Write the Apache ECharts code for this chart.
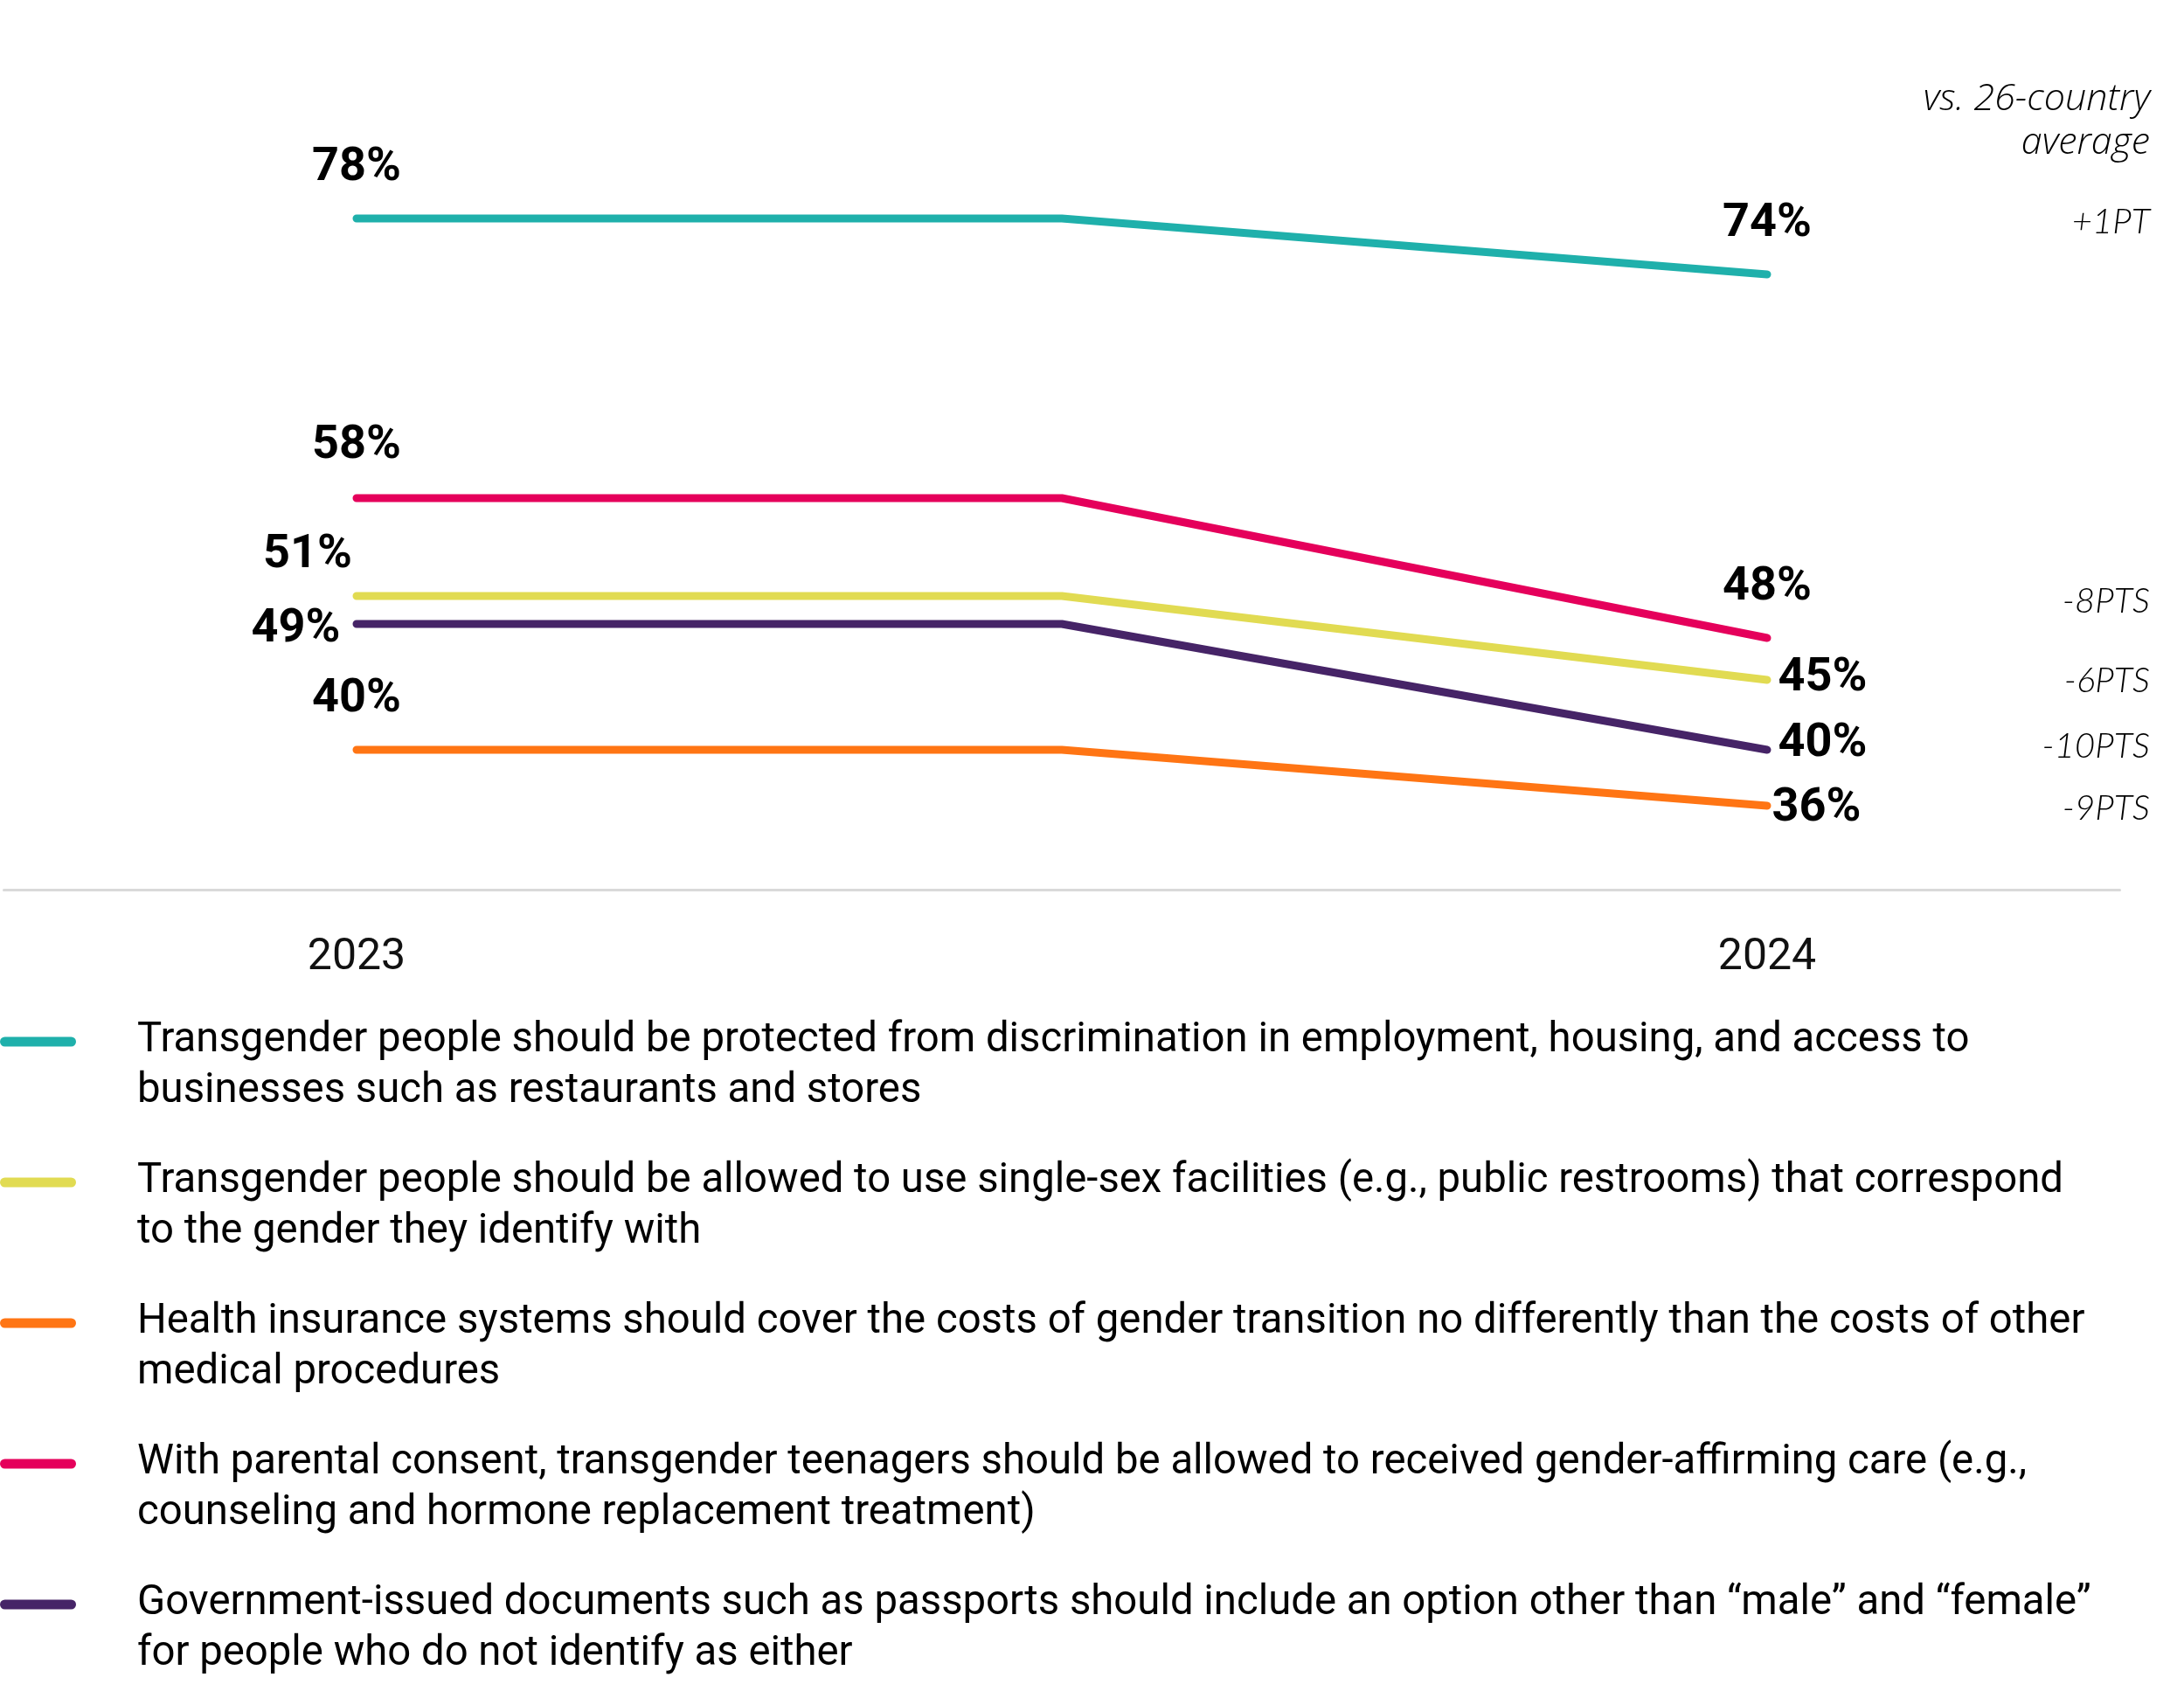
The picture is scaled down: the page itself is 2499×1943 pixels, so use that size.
<!DOCTYPE html>
<html>
<head>
<meta charset="utf-8">
<script src="https://cdn.jsdelivr.net/npm/echarts@6/dist/echarts.min.js"></script>
<title>Support for transgender rights, 2023 vs 2024</title>
<style>
  html, body { margin: 0; padding: 0; background: #ffffff; }
  #main { width: 2499px; height: 1943px; }
</style>
</head>
<body>
<div id="main"></div>
<script>
// categories: the middle point is an unlabeled bend in the lines
var years = ['2023', '', '2024'];

// series values (percent agree)
var protectedValues  = [78, 78, 74];
var facilitiesValues = [51, 51, 45];
var healthValues     = [40, 40, 36];
var teenCareValues   = [58, 58, 48];
var documentsValues  = [49, 49, 40];

var statements = [
  'Transgender people should be protected from discrimination in employment, housing, and access to\nbusinesses such as restaurants and stores',
  'Transgender people should be allowed to use single-sex facilities (e.g., public restrooms) that correspond\nto the gender they identify with',
  'Health insurance systems should cover the costs of gender transition no differently than the costs of other\nmedical procedures',
  'With parental consent, transgender teenagers should be allowed to received gender-affirming care (e.g.,\ncounseling and hormone replacement treatment)',
  'Government-issued documents such as passports should include an option other than \u201cmale\u201d and \u201cfemale\u201d\nfor people who do not identify as either'
];

// difference vs. 26-country average, same order as statements
var vsAverage = ['+1PT', '-6PTS', '-9PTS', '-8PTS', '-10PTS'];
var vsAverageTitle = 'vs. 26-country\naverage';

var seriesValues = [protectedValues, facilitiesValues, healthValues, teenCareValues, documentsValues];
var colors = ['#1fb0ab', '#e1db52', '#ff7514', '#e5005b', '#462467'];

// label placement for first / last point of each line
var labelPlacement = [
  { start: { position: 'top', distance: 30 }, end: { position: 'top', distance: 30 } },
  { start: { position: 'top', distance: 19, offset: [-56, 0] }, end: { position: 'right', distance: 12, offset: [0, -2] } },
  { start: { position: 'top', distance: 30 }, end: { position: 'right', distance: 5, offset: [0, 3] } },
  { start: { position: 'top', distance: 32 }, end: { position: 'top', distance: 30 } },
  { start: { position: 'left', distance: 18, offset: [0, 6] }, end: { position: 'right', distance: 12, offset: [0, -7] } }
];
// y of the "vs. average" notes, same order as statements
var noteY = [254, 779, 925, 688, 854];

var chart = echarts.init(document.getElementById('main'));

var series = seriesValues.map(function (values, s) {
  return {
    name: statements[s],
    type: 'line',
    symbol: 'circle',
    symbolSize: 1,
    itemStyle: { color: colors[s] },
    lineStyle: { color: colors[s], width: 9, cap: 'round', join: 'round' },
    label: {
      show: true,
      formatter: '{c}%',
      fontFamily: 'Roboto',
      fontWeight: 'bold',
      fontSize: 54,
      lineHeight: 54,
      color: '#000000'
    },
    data: values.map(function (v, i) {
      var lab = { show: false };
      if (i === 0) lab = labelPlacement[s].start;
      if (i === values.length - 1) lab = labelPlacement[s].end;
      return { value: v, label: lab };
    })
  };
});

var graphics = [];
statements.forEach(function (text, i) {
  var top = 1192 + i * 161;
  graphics.push({
    type: 'line',
    shape: { x1: 5.5, y1: top, x2: 81.5, y2: top },
    style: { stroke: colors[i], lineWidth: 11, lineCap: 'round' }
  });
  graphics.push({
    type: 'text',
    x: 157,
    y: top - 30,
    style: {
      text: text,
      fontFamily: 'Roboto',
      fontSize: 47.3,
      lineHeight: 58,
      fill: '#000000',
      align: 'left',
      verticalAlign: 'top'
    }
  });
  graphics.push({
    type: 'text',
    x: 2460,
    y: noteY[i],
    style: {
      text: vsAverage[i],
      fontFamily: 'Lato',
      fontStyle: 'italic',
      fontWeight: 300,
      fontSize: 40,
      fill: '#000000',
      align: 'right',
      verticalAlign: 'middle'
    }
  });
});
graphics.push({
  type: 'text',
  x: 2460,
  y: 89,
  style: {
    text: vsAverageTitle,
    fontFamily: 'Open Sans',
    fontStyle: 'italic',
    fontWeight: 300,
    fontSize: 43,
    lineHeight: 50,
    fill: '#000000',
    align: 'right',
    verticalAlign: 'top'
  }
});

var option = {
  animation: false,
  backgroundColor: '#ffffff',
  grid: { left: 4.5, top: 58, width: 2421, height: 960, containLabel: false },
  xAxis: {
    type: 'category',
    data: years,
    boundaryGap: true,
    axisLine: { lineStyle: { color: '#d9d9d9', width: 3 } },
    axisTick: { show: false },
    axisLabel: {
      fontFamily: 'Roboto',
      fontSize: 50,
      lineHeight: 52,
      color: '#111111',
      margin: 52
    },
    splitLine: { show: false }
  },
  yAxis: {
    type: 'value',
    min: 30,
    max: 90,
    show: false,
    splitLine: { show: false }
  },
  series: series,
  graphic: graphics
};

chart.setOption(option);
</script>
</body>
</html>
